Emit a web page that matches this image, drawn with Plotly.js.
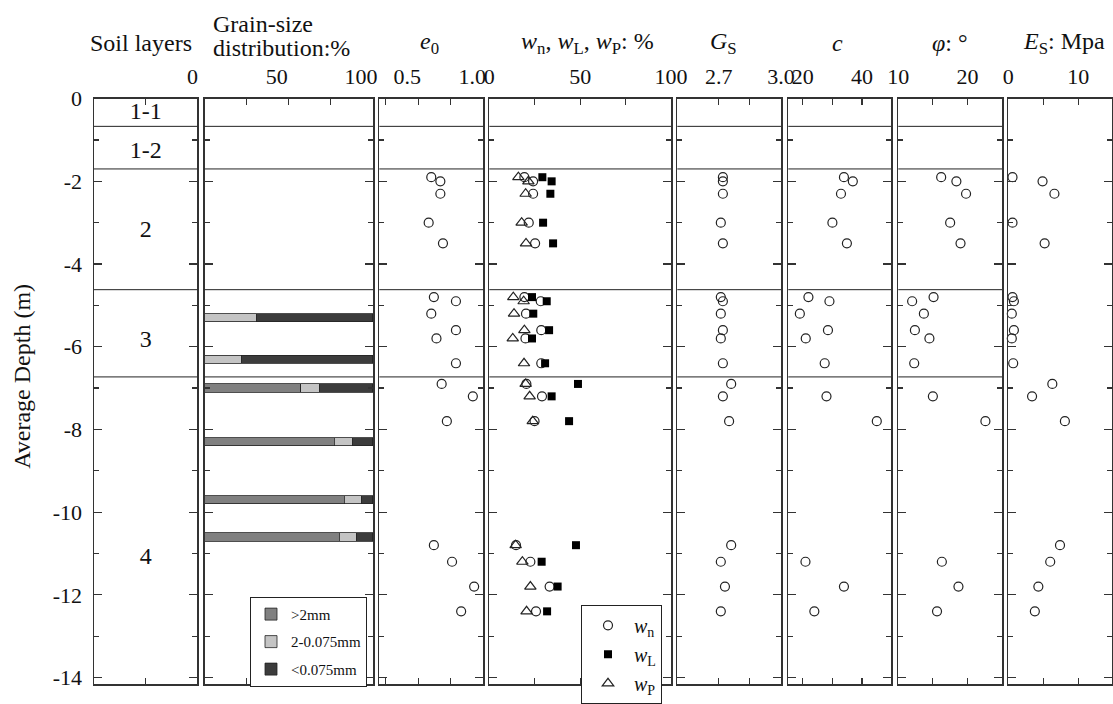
<!DOCTYPE html>
<html>
<head>
<meta charset="utf-8">
<script src="https://cdn.plot.ly/plotly-3.0.1.min.js"></script>
<style>html,body{margin:0;padding:0;background:#fff;}#chart{width:1113px;height:704px;}</style>
</head>
<body>
<div id="chart"></div>
<script>
// ---------------- data ----------------
const depth = [-1.9, -2.0, -2.3, -3.0, -3.5, -4.8, -4.9, -5.2, -5.6, -5.8, -6.4, -6.9, -7.2, -7.8, -10.8, -11.2, -11.8, -12.4];
const e0    = [0.60, 0.67, 0.67, 0.58, 0.69, 0.62, 0.79, 0.60, 0.79, 0.64, 0.79, 0.68, 0.92, 0.72, 0.62, 0.76, 0.93, 0.83];
const wn    = [19.3, 24.1, 24.1, 21.7, 25.2, 19.3, 28.3, 20.2, 28.6, 19.9, 28.6, 20.4, 29.0, 24.9, 14.7, 22.6, 33.2, 25.7];
const wL    = [29.2, 34.3, 33.6, 29.6, 35.1, 23.5, 31.6, 24.2, 32.9, 23.5, 30.7, 48.8, 34.3, 43.9, 47.7, 28.8, 37.6, 31.8];
const wP    = [16.0, 21.5, 20.0, 17.8, 20.2, 13.2, 18.9, 13.6, 19.3, 12.9, 19.1, 20.0, 22.2, 23.9, 14.5, 18.2, 22.6, 20.5];
const Gs    = [2.72, 2.72, 2.72, 2.71, 2.72, 2.71, 2.72, 2.71, 2.72, 2.71, 2.72, 2.76, 2.72, 2.75, 2.76, 2.71, 2.73, 2.71];
const cVal  = [33.9, 36.9, 32.9, 30.0, 34.9, 21.9, 29.0, 19.0, 28.5, 21.0, 27.4, null, 28.0, 45.0, null, 20.9, 33.9, 23.9];
const phi   = [16.2, 18.4, 19.8, 17.5, 19.0, 15.1, 12.0, 13.7, 12.4, 14.5, 12.3, null, 15.0, 22.6, null, 16.3, 18.7, 15.6];
const Es    = [0.6, 4.9, 6.6, 0.6, 5.2, 0.6, 0.8, 0.5, 0.8, 0.5, 0.7, 6.3, 3.4, 8.1, 7.4, 6.0, 4.3, 3.8];

const grainDepth = [-5.3, -6.3, -7.0, -8.3, -9.7, -10.6];
const gravel     = [0, 0, 57, 77, 83, 80];
const sand       = [31, 22, 11, 11, 10, 10];
const fines      = [69, 78, 32, 12, 7, 10];

const layerBounds     = [-0.67, -1.7, -4.62, -6.73];
const layerNames      = ['1-1', '1-2', '2', '3', '4'];
const layerLabelDepth = [-0.34, -1.3, -3.2, -5.85, -11.1];

const yTickVals = [0, -2, -4, -6, -8, -10, -12, -14];
const yTickText = ['0', '-2', '-4', '-6', '-8', '-10', '-12', '-14'];
const xTickVals = [[0.5], [0, 25, 50, 75, 100], [0.25, 0.5, 0.75, 1.0], [0, 25, 50, 75, 100],
                   [2.7, 2.85, 3.0], [20, 30, 40], [10, 15, 20], [0, 5, 10]];
const xTickText = [[''], ['0', '', '50', '', '100'], ['', '0.5', '', '1.0'], ['0', '', '50', '', '100'],
                   ['2.7', '', '3.0'], ['20', '', '40'], ['10', '', '20'], ['0', '', '10']];

// ---------------- layout helpers ----------------
const W = 1113, H = 704;
const F = 'Liberation Serif, Times New Roman, serif';
const ink = '#222';
const panelsPx = [[94, 197.3], [204.5, 373], [379.3, 483.3], [489.3, 671], [677.3, 781], [788.3, 891], [898.3, 1002], [1008.3, 1111.7]];
const xRanges = [[0, 1], [-0.01, 100.01], [0.2, 1.0005], [-0.01, 100.01], [2.5, 3.0005], [15.1, 49.8], [9.999, 25], [-0.001, 14.8]];
const labelShift = [0, -12, -11, 0, 0, 0, 0, 0];
const yTopPx = 99.5, yBotPx = 690;
const yDomain = [1 - yBotPx / H, 1 - yTopPx / H];

const ax = i => (i === 0 ? '' : String(i + 1));

const layout = {
  width: W, height: H,
  margin: {l: 0, r: 0, t: 0, b: 0},
  paper_bgcolor: '#fff', plot_bgcolor: '#fff',
  barmode: 'stack',
  showlegend: true,
  font: {family: F, color: '#111'},
  shapes: [],
  annotations: []
};

for (let i = 0; i < 8; i++) {
  layout['xaxis' + ax(i)] = {
    domain: [panelsPx[i][0] / W, panelsPx[i][1] / W],
    range: xRanges[i], side: 'top', anchor: 'y' + ax(i),
    showline: true, linecolor: '#333', linewidth: 1.5, mirror: 'allticks',
    ticks: 'inside', ticklen: 6, tickwidth: 1.2, tickcolor: '#333',
    tickmode: 'array', tickvals: xTickVals[i], ticktext: xTickText[i],
    tickfont: {family: F, size: 22, color: '#111'},
    ticklabelstandoff: 4, ticklabelshift: labelShift[i],
    showgrid: false, zeroline: false, fixedrange: true
  };
  const ya = {
    domain: yDomain, range: [-14.16, 0], anchor: 'x' + ax(i),
    showline: true, linecolor: '#333', linewidth: 1.5, mirror: 'allticks',
    ticks: 'inside', ticklen: 8, tickwidth: 1.2, tickcolor: '#333',
    tickmode: 'array', tickvals: yTickVals, ticktext: yTickText,
    showticklabels: i === 0,
    tickfont: {family: F, size: 22, color: '#111'},
    ticklabelstandoff: 6,
    minor: {tickmode: 'linear', tick0: 0, dtick: 1, ticks: 'inside', ticklen: 5, tickwidth: 1.2, tickcolor: '#333'},
    showgrid: false, zeroline: false, fixedrange: true
  };
  if (i > 0) ya.matches = 'y';
  layout['yaxis' + ax(i)] = ya;
  // soil layer boundaries (not in the Es panel)
  if (i < 7) {
    layerBounds.forEach(b => layout.shapes.push({
      type: 'line', xref: 'x' + ax(i) + ' domain', x0: 0, x1: 1,
      yref: 'y' + ax(i), y0: b, y1: b, line: {color: ink, width: 1}
    }));
  }
}

// headers
const hdr = (text, xpx, ypx, anchor) => layout.annotations.push({
  text: text, xref: 'paper', yref: 'paper', x: xpx / W, y: 1 - ypx / H,
  xanchor: anchor || 'center', yanchor: 'middle', showarrow: false,
  font: {family: F, size: 24, color: '#111'}
});
hdr('Soil layers', 140.5, 43);
hdr('Grain-size', 211, 24, 'left');
hdr('distribution:%', 211, 48, 'left');
hdr('<i>e</i><sub>0</sub>', 429, 43);
hdr('<i>w</i><sub>n</sub>, <i>w</i><sub>L</sub>, <i>w</i><sub>P</sub>: %', 587, 43);
hdr('<i>G</i><sub>S</sub>', 723, 43);
hdr('<i>c</i>', 837, 43);
hdr('<i>φ</i>: °', 949.5, 43);
hdr('<i>E</i><sub>S</sub>: Mpa', 1063.5, 43);
layout.annotations.push({
  text: 'Average Depth (m)', xref: 'paper', yref: 'paper', x: 22 / W, y: 1 - 380 / H,
  xanchor: 'center', yanchor: 'middle', textangle: -90, showarrow: false,
  font: {family: F, size: 24, color: '#111'}
});

layout.legend = {
  x: 250 / W, y: 1 - 602 / H, xanchor: 'left', yanchor: 'top',
  bordercolor: ink, borderwidth: 1, bgcolor: '#fff',
  font: {family: F, size: 15, color: '#111'}, traceorder: 'grouped',
  tracegroupgap: 5, itemwidth: 30
};
layout.legend2 = {
  x: 581 / W, y: 1 - 610 / H, xanchor: 'left', yanchor: 'top',
  bordercolor: ink, borderwidth: 1, bgcolor: '#fff',
  font: {family: F, size: 20, color: '#111'}, traceorder: 'grouped',
  tracegroupgap: 0, itemwidth: 42
};

// ---------------- traces ----------------
const openCircle = {symbol: 'circle-open', size: 9, color: ink, line: {width: 1.2, color: ink}};
const pts = (x, i, name, marker, group) => ({
  type: 'scatter', mode: 'markers', x: x, y: depth, name: name,
  xaxis: 'x' + ax(i), yaxis: 'y' + ax(i), marker: marker, cliponaxis: false,
  showlegend: !!group, legend: 'legend2', legendgroup: group || undefined, hoverinfo: 'skip'
});
const barT = (vals, name, color, group) => ({
  type: 'bar', orientation: 'h', x: vals, y: grainDepth, name: name, width: 0.2,
  xaxis: 'x2', yaxis: 'y2', marker: {color: color, line: {color: ink, width: 0.8}},
  legend: 'legend', legendgroup: group, hoverinfo: 'skip'
});

const data = [
  {type: 'scatter', mode: 'text', x: layerNames.map(() => 0.5), y: layerLabelDepth, text: layerNames,
   textfont: {family: F, size: 24, color: '#111'}, xaxis: 'x', yaxis: 'y', showlegend: false, hoverinfo: 'skip'},
  barT(gravel, '&gt;2mm', '#808080', 'g1'),
  barT(sand, '2-0.075mm', '#c4c4c4', 'g2'),
  barT(fines, '&lt;0.075mm', '#3c3c3c', 'g3'),
  pts(e0, 2, 'e0', openCircle, null),
  pts(wn, 3, '<i>w</i><sub>n</sub>', openCircle, 'w1'),
  pts(wL, 3, '<i>w</i><sub>L</sub>', {symbol: 'square', size: 8, color: '#000'}, 'w2'),
  pts(wP, 3, '<i>w</i><sub>P</sub>', {symbol: 'triangle-up-open', size: 10, color: ink, line: {width: 1.2, color: ink}}, 'w3'),
  pts(Gs, 4, 'Gs', openCircle, null),
  pts(cVal, 5, 'c', openCircle, null),
  pts(phi, 6, 'phi', openCircle, null),
  pts(Es, 7, 'Es', openCircle, null)
];

Plotly.newPlot('chart', data, layout, {displayModeBar: false, staticPlot: true});
</script>
</body>
</html>
